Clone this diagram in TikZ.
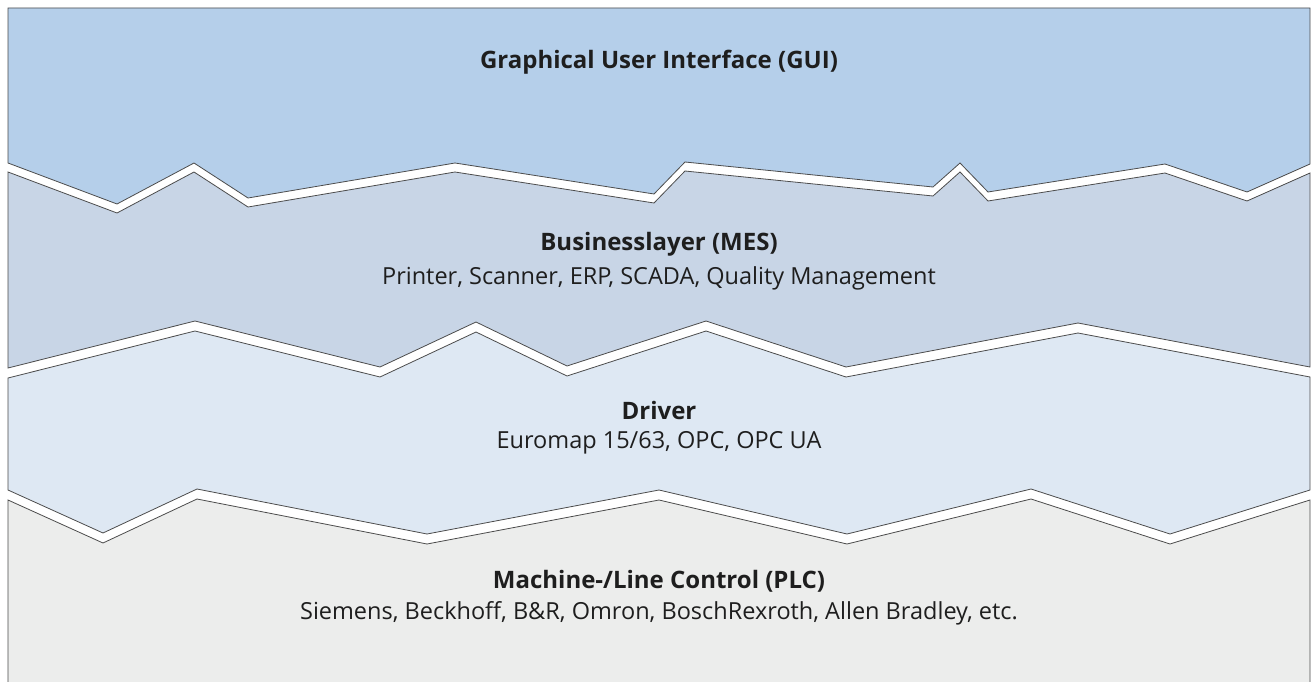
\documentclass[tikz,border=0pt]{standalone}
\usepackage{fontspec}
\setmainfont{Open Sans}
\definecolor{txt}{RGB}{30,30,30}
\begin{document}
\begin{tikzpicture}[x=1pt,y=-1pt,
  layer/.style={draw=black!70, line width=0.8pt, line join=miter},
  ttl/.style={font=\fontsize{24}{28}\selectfont\bfseries, text=txt, anchor=base, inner sep=0pt},
  sub/.style={font=\fontsize{23.5}{28}\selectfont, text=txt, anchor=base, inner sep=0pt}]
\useasboundingbox (0,0) rectangle (1316,682);
\fill[white] (0,0) rectangle (1316,682);
% GUI
\filldraw[layer, fill={rgb,255:red,181;green,207;blue,234}]
  (8,163) -- (8,8) -- (1310,8) -- (1310,164)
  -- (1247,192) -- (1165,164) -- (988,192) -- (960,163) -- (933,187)
  -- (685,162) -- (654,194) -- (455,163) -- (248,198) -- (194,163) -- (117,204) -- cycle;
% Business
\filldraw[layer, fill={rgb,255:red,200;green,213;blue,230}]
  (8,172) -- (117,213) -- (194,172) -- (248,207) -- (455,172) -- (654,203) -- (685,171)
  -- (933,196) -- (960,172) -- (988,201) -- (1165,173) -- (1247,201) -- (1310,173)
  -- (1310,367) -- (1078,323) -- (846,367) -- (706,321) -- (567,366) -- (476,322)
  -- (380,367) -- (195,321) -- (8,368) -- cycle;
% Driver
\filldraw[layer, fill={rgb,255:red,222;green,232;blue,243}]
  (8,378) -- (195,331) -- (380,377) -- (476,332) -- (567,376) -- (706,331) -- (846,377)
  -- (1078,333) -- (1310,377)
  -- (1310,490) -- (1170,534) -- (1031,489) -- (847,534) -- (659,490) -- (427,534)
  -- (197,489) -- (103,533) -- (8,490) -- cycle;
% PLC
\filldraw[layer, fill={rgb,255:red,236;green,237;blue,236}]
  (8,500) -- (103,543) -- (197,499) -- (427,544) -- (659,500) -- (847,544) -- (1031,499)
  -- (1170,544) -- (1310,500) -- (1310,700) -- (8,700) -- cycle;
\node[ttl] (gui) at (659,69) {Graphical User Interface (GUI)};
\node[ttl] (mes) at (659,250) {Businesslayer (MES)};
\node[sub] (mess) at (659,284) {Printer, Scanner, ERP, SCADA, Quality Management};
\node[ttl] (drv) at (659,419) {Driver};
\node[sub] (drvs) at (659,448) {Euromap 15/63, OPC, OPC UA};
\node[ttl] (plc) at (659,588) {Machine-/Line Control (PLC)};
\node[sub] (plcs) at (659,619) {Siemens, Beckhoff, B\&R, Omron, BoschRexroth, Allen Bradley, etc.};
\end{tikzpicture}
\end{document}
